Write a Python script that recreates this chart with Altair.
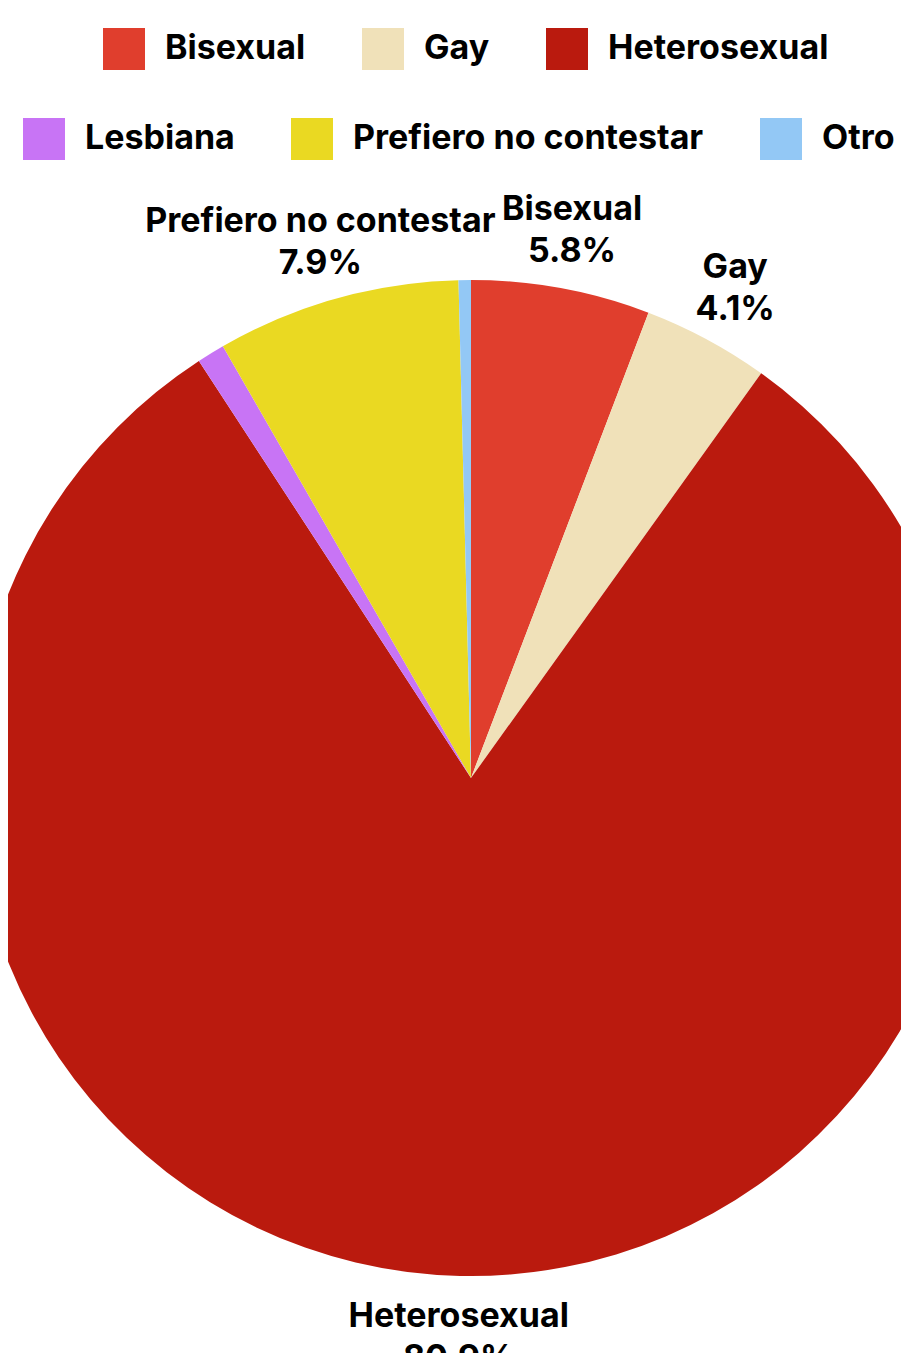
import altair as alt
import pandas as pd

categories = ["Bisexual", "Gay", "Heterosexual", "Lesbiana", "Prefiero no contestar", "Otro"]
values = [5.8, 4.1, 80.9, 0.9, 7.9, 0.4]
colors = ["#E03E2D", "#F0E1B9", "#BA1A0E", "#C874F5", "#EAD922", "#93C8F5"]
row1 = categories[:3]
row2 = categories[3:]

df = pd.DataFrame({"cat": categories, "value": values, "order": list(range(len(categories)))})

FONT = "Inter"
CX, CY = 463, 770
R = 498

base = (
    alt.Chart(df)
    .transform_window(end="sum(value)", sort=[alt.SortField("order")], frame=[None, 0])
    .transform_calculate(start="datum.end - datum.value", mid="datum.end - datum.value / 2")
)

theta_scale = alt.Scale(domain=[0, 100])


def legend(x, y):
    return alt.Legend(
        orient="none", legendX=x, legendY=y, direction="horizontal", title=None,
        symbolType="square", symbolSize=1764, symbolStrokeWidth=0,
        labelFontSize=34, labelFont=FONT, labelFontWeight="bold", labelColor="#000000",
        labelOffset=20, columnPadding=56, padding=0, labelLimit=1000,
    )


arcs1 = base.transform_filter(alt.FieldOneOfPredicate(field="cat", oneOf=row1)).mark_arc(
    outerRadius=R, strokeWidth=0
).encode(
    theta=alt.Theta("start:Q", scale=theta_scale),
    theta2="end:Q",
    x=alt.value(CX), y=alt.value(CY),
    color=alt.Color("cat:N", scale=alt.Scale(domain=row1, range=colors[:3]), legend=legend(95, 20)),
)

arcs2 = base.transform_filter(alt.FieldOneOfPredicate(field="cat", oneOf=row2)).mark_arc(
    outerRadius=R, strokeWidth=0
).encode(
    theta=alt.Theta("start:Q", scale=theta_scale),
    theta2="end:Q",
    x=alt.value(CX), y=alt.value(CY),
    color=alt.Color("cat:N", scale=alt.Scale(domain=row2, range=colors[3:]), legend=legend(15, 110)),
)

labels = base.transform_filter("datum.value > 2").transform_calculate(
    label="datum.cat + '\\n' + format(datum.value, '.1f') + '%'"
).mark_text(
    radius=558, dy=-19, font=FONT, fontSize=34, fontWeight="bold", color="#000000",
    align="center", baseline="middle", lineBreak="\n", lineHeight=42,
).encode(
    theta=alt.Theta("mid:Q", scale=theta_scale),
    x=alt.value(CX), y=alt.value(CY),
    text="label:N",
)

chart = (
    alt.layer(arcs1, arcs2, labels)
    .resolve_scale(color="independent", theta="shared")
    .properties(width=893, height=1345, padding=0, autosize=alt.AutoSizeParams(type="none"))
    .configure_view(stroke=None)
)

chart.save("out.html", embed_options={"renderer": "svg", "actions": False})
